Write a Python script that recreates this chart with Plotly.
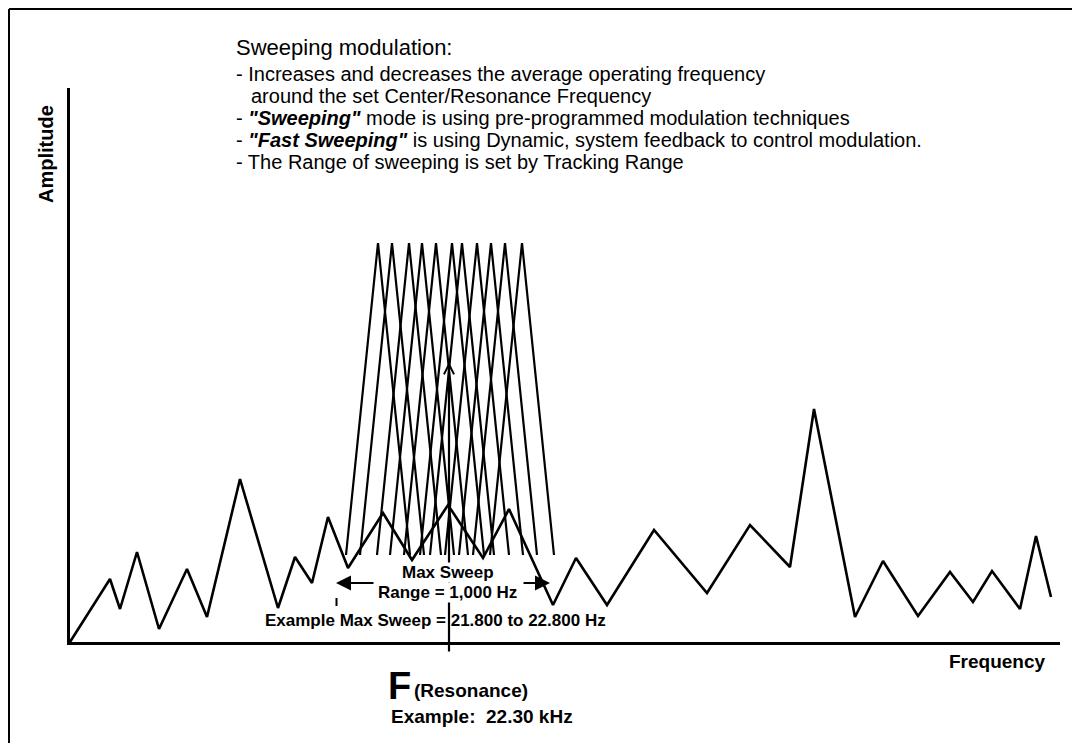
import plotly.graph_objects as go

# ---------------- data ----------------
# baseline spectrum: frequency position vs amplitude (arbitrary units)
base_freq = [0, 40, 50, 67, 89, 117, 137, 170, 208, 225, 242, 258, 278, 313, 342,
             378, 413, 439, 483, 506, 537, 584, 637, 680, 720, 744, 785, 813, 848, 880,
             903, 922, 950, 966, 981]
base_amp = [0, 63, 33, 90, 13, 73, 25, 163, 34, 85, 59, 125, 74, 129, 82,
            137, 84, 133, 37, 84, 37, 112, 49, 117, 75, 233, 25, 81, 26, 70,
            40, 71, 33, 106, 45]

# sweeping carriers (centre frequencies of the swept peaks)
sweep_centers = [308, 322, 339, 352, 366, 382, 392, 407, 421, 435, 452]
sweep_peak_amp = 399
sweep_foot_amp = 87
sweep_half_width = 32

# resonance marker and sweep-range arrows
resonance_freq = 379
resonance_top_amp = 280
sweep_range_left = 266
sweep_range_right = 480

title_lines = [
    "Sweeping modulation:",
    "- Increases and decreases the average operating frequency",
    "around the set Center/Resonance Frequency",
    "- <b><i>\"Sweeping\"</i></b> mode is using pre-programmed modulation techniques",
    "- <b><i>\"Fast Sweeping\"</i></b> is using Dynamic, system feedback to control modulation.",
    "- The Range of sweeping is set by Tracking Range",
]

FONT = "Liberation Sans, Arial, sans-serif"
BODY = 8                      # page margin of the html body
W, H = 1080 - 2 * BODY, 753 - 2 * BODY - 2
X0, Y0 = 70, 642              # axis origin (screen pixels)
XEND, YTOP = 1060, 88         # axis ends (screen pixels)
ML = X0 - BODY
MT = YTOP - BODY
MR = W - (XEND - BODY)
MB = H - (Y0 - BODY)
XR = [0, XEND - X0]
YR = [0, Y0 - YTOP]


def pxp(sx):
    """screen x -> paper x"""
    return (sx - X0) / XR[1]


def pyp(sy):
    """screen y -> paper y"""
    return (Y0 - sy) / YR[1]


def dx(sx):
    return sx - X0


def dy(sy):
    return Y0 - sy


fig = go.Figure()

# baseline spectrum
fig.add_trace(go.Scatter(
    x=base_freq, y=base_amp, mode="lines",
    line=dict(color="black", width=2.6), hoverinfo="skip", cliponaxis=False))

# swept carriers
for c in sweep_centers:
    fig.add_trace(go.Scatter(
        x=[c - sweep_half_width, c, c + sweep_half_width],
        y=[sweep_foot_amp, sweep_peak_amp, sweep_foot_amp],
        mode="lines", line=dict(color="black", width=2.2),
        hoverinfo="skip", cliponaxis=False))

ann = []

# resonance arrow (drawn first so labels can cover it)
ann.append(dict(x=resonance_freq, y=resonance_top_amp, ax=resonance_freq, ay=dy(653),
                xref="x", yref="y", axref="x", ayref="y", text="",
                showarrow=True, arrowhead=5, arrowsize=0.9, arrowwidth=2.2,
                arrowcolor="black", standoff=0, startstandoff=0))

# sweep range arrows
ann.append(dict(x=sweep_range_left, y=dy(583), ax=dx(375), ay=dy(583),
                xref="x", yref="y", axref="x", ayref="y", text="",
                showarrow=True, arrowhead=2, arrowsize=1.5, arrowwidth=2,
                arrowcolor="black", standoff=0))
ann.append(dict(x=sweep_range_right, y=dy(583), ax=dx(522), ay=dy(583),
                xref="x", yref="y", axref="x", ayref="y", text="",
                showarrow=True, arrowhead=2, arrowsize=1.5, arrowwidth=2,
                arrowcolor="black", standoff=0))


def label(text, sx, sy, size, xanchor="left", bold=False, bg=None, angle=0):
    d = dict(x=pxp(sx), y=pyp(sy), xref="paper", yref="paper",
             text=(f"<b>{text}</b>" if bold else text),
             showarrow=False, xanchor=xanchor, yanchor="middle",
             font=dict(family=FONT, size=size, color="black"), textangle=angle,
             borderpad=0)
    if bg:
        d["bgcolor"] = bg
    ann.append(d)


# header text block
label(title_lines[0], 235, 47, 22)
label(title_lines[1], 235, 74, 20)
label(title_lines[2], 250, 96, 20)
label(title_lines[3], 235, 118, 20)
label(title_lines[4], 235, 140, 20)
label(title_lines[5], 235, 162, 20)

# axis titles
label("Amplitude", 46, 154, 20, xanchor="center", bold=True, angle=-90)
label("Frequency", 997, 661, 19, xanchor="center", bold=True)

# sweep labels
label("Max Sweep", 448, 572, 17, xanchor="center", bold=True, bg="white")
label("Range = 1,000 Hz", 447, 592, 17, xanchor="center", bold=True, bg="white")
label("Example Max Sweep = 21.800 to 22.800 Hz", 264, 620, 17, bold=True)

# resonance labels
label("F", 399, 686, 38, xanchor="center", bold=True)
label("(Resonance)", 413, 690, 19, bold=True)
label("Example:  22.30 kHz", 390, 716, 19, bold=True)

fig.update_layout(annotations=ann)

# outer frame (left and top edges) and small tick
fig.add_shape(type="line", xref="paper", yref="paper",
              x0=pxp(9), x1=pxp(9), y0=pyp(9), y1=pyp(800),
              line=dict(color="black", width=2))
fig.add_shape(type="line", xref="paper", yref="paper",
              x0=pxp(9), x1=pxp(1200), y0=pyp(9), y1=pyp(9),
              line=dict(color="black", width=2))
fig.add_shape(type="line", xref="x", yref="y",
              x0=sweep_range_left + 0.5, x1=sweep_range_left + 0.5, y0=dy(598), y1=dy(606),
              line=dict(color="black", width=2))

fig.update_layout(
    width=W, height=H,
    margin=dict(l=ML, r=MR, t=MT, b=MB, pad=0),
    paper_bgcolor="white", plot_bgcolor="white",
    showlegend=False,
    xaxis=dict(range=XR, showgrid=False, zeroline=False, showticklabels=False,
               ticks="", showline=True, linecolor="black", linewidth=2.5, fixedrange=True),
    yaxis=dict(range=YR, showgrid=False, zeroline=False, showticklabels=False,
               ticks="", showline=True, linecolor="black", linewidth=2.5, fixedrange=True),
)

fig.write_html("out.html")
